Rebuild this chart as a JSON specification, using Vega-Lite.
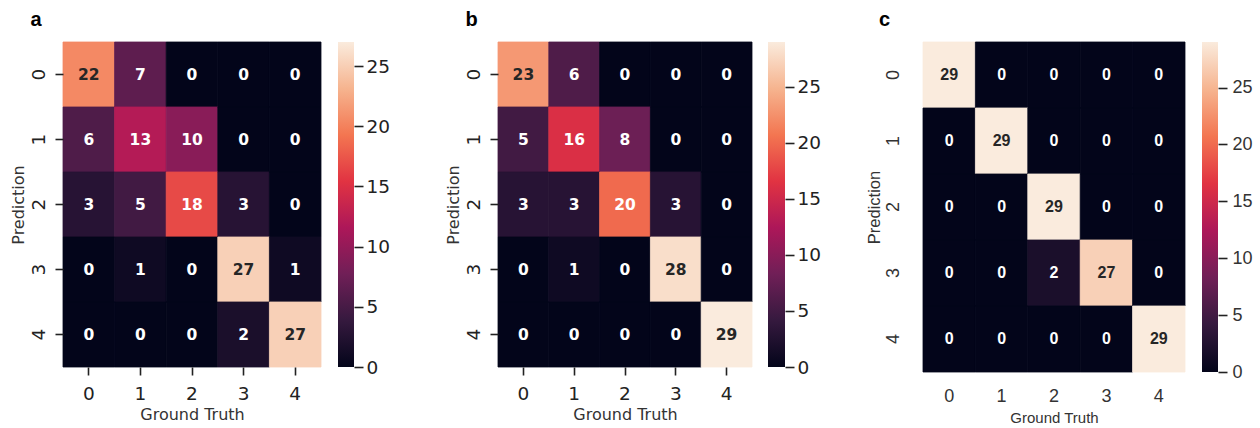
{
  "$schema": "https://vega.github.io/schema/vega-lite/v6.json",
  "background": "white",
  "padding": {"left": 10, "top": 9, "right": 0, "bottom": 0},
  "config": {"view": {"stroke": null}, "axis": {"grid": false, "domain": false}},
  "datasets": {
    "a": [
      {"pred": 0, "truth": 0, "n": 22}, {"pred": 0, "truth": 1, "n": 7}, {"pred": 0, "truth": 2, "n": 0}, {"pred": 0, "truth": 3, "n": 0}, {"pred": 0, "truth": 4, "n": 0},
      {"pred": 1, "truth": 0, "n": 6}, {"pred": 1, "truth": 1, "n": 13}, {"pred": 1, "truth": 2, "n": 10}, {"pred": 1, "truth": 3, "n": 0}, {"pred": 1, "truth": 4, "n": 0},
      {"pred": 2, "truth": 0, "n": 3}, {"pred": 2, "truth": 1, "n": 5}, {"pred": 2, "truth": 2, "n": 18}, {"pred": 2, "truth": 3, "n": 3}, {"pred": 2, "truth": 4, "n": 0},
      {"pred": 3, "truth": 0, "n": 0}, {"pred": 3, "truth": 1, "n": 1}, {"pred": 3, "truth": 2, "n": 0}, {"pred": 3, "truth": 3, "n": 27}, {"pred": 3, "truth": 4, "n": 1},
      {"pred": 4, "truth": 0, "n": 0}, {"pred": 4, "truth": 1, "n": 0}, {"pred": 4, "truth": 2, "n": 0}, {"pred": 4, "truth": 3, "n": 2}, {"pred": 4, "truth": 4, "n": 27}
    ],
    "b": [
      {"pred": 0, "truth": 0, "n": 23}, {"pred": 0, "truth": 1, "n": 6}, {"pred": 0, "truth": 2, "n": 0}, {"pred": 0, "truth": 3, "n": 0}, {"pred": 0, "truth": 4, "n": 0},
      {"pred": 1, "truth": 0, "n": 5}, {"pred": 1, "truth": 1, "n": 16}, {"pred": 1, "truth": 2, "n": 8}, {"pred": 1, "truth": 3, "n": 0}, {"pred": 1, "truth": 4, "n": 0},
      {"pred": 2, "truth": 0, "n": 3}, {"pred": 2, "truth": 1, "n": 3}, {"pred": 2, "truth": 2, "n": 20}, {"pred": 2, "truth": 3, "n": 3}, {"pred": 2, "truth": 4, "n": 0},
      {"pred": 3, "truth": 0, "n": 0}, {"pred": 3, "truth": 1, "n": 1}, {"pred": 3, "truth": 2, "n": 0}, {"pred": 3, "truth": 3, "n": 28}, {"pred": 3, "truth": 4, "n": 0},
      {"pred": 4, "truth": 0, "n": 0}, {"pred": 4, "truth": 1, "n": 0}, {"pred": 4, "truth": 2, "n": 0}, {"pred": 4, "truth": 3, "n": 0}, {"pred": 4, "truth": 4, "n": 29}
    ],
    "c": [
      {"pred": 0, "truth": 0, "n": 29}, {"pred": 0, "truth": 1, "n": 0}, {"pred": 0, "truth": 2, "n": 0}, {"pred": 0, "truth": 3, "n": 0}, {"pred": 0, "truth": 4, "n": 0},
      {"pred": 1, "truth": 0, "n": 0}, {"pred": 1, "truth": 1, "n": 29}, {"pred": 1, "truth": 2, "n": 0}, {"pred": 1, "truth": 3, "n": 0}, {"pred": 1, "truth": 4, "n": 0},
      {"pred": 2, "truth": 0, "n": 0}, {"pred": 2, "truth": 1, "n": 0}, {"pred": 2, "truth": 2, "n": 29}, {"pred": 2, "truth": 3, "n": 0}, {"pred": 2, "truth": 4, "n": 0},
      {"pred": 3, "truth": 0, "n": 0}, {"pred": 3, "truth": 1, "n": 0}, {"pred": 3, "truth": 2, "n": 2}, {"pred": 3, "truth": 3, "n": 27}, {"pred": 3, "truth": 4, "n": 0},
      {"pred": 4, "truth": 0, "n": 0}, {"pred": 4, "truth": 1, "n": 0}, {"pred": 4, "truth": 2, "n": 0}, {"pred": 4, "truth": 3, "n": 0}, {"pred": 4, "truth": 4, "n": 29}
    ],
    "barA": [{"lo": 0, "hi": 27}],
    "barB": [{"lo": 0, "hi": 29}],
    "barC": [{"lo": 0, "hi": 29}]
  },
  "spacing": 45,
  "hconcat": [
    {
      "spacing": 55,
      "hconcat": [
        {
          "title": {"text": "a", "anchor": "start", "frame": "bounds", "dx": 20, "offset": 12, "font": "Liberation Sans", "fontSize": 20, "fontWeight": "bold", "color": "#000000"},
          "spacing": 16,
          "hconcat": [
            {
              "width": 258, "height": 325,
              "data": {"name": "a"},
              "encoding": {
                "x": {"field": "truth", "type": "ordinal", "axis": {"title": "Ground Truth", "labelAngle": 0, "labelFont": "DejaVu Sans", "labelFontSize": 18.5, "labelColor": "#222222", "tickSize": 8, "tickWidth": 1.6, "tickColor": "#222222", "labelPadding": 9, "titleFont": "DejaVu Sans", "titleFontSize": 16, "titleFontWeight": "normal", "titleColor": "#333333", "titlePadding": 4}},
                "y": {"field": "pred", "type": "ordinal", "axis": {"title": "Prediction", "labelAngle": -90, "labelAlign": "center", "labelBaseline": "bottom", "labelFont": "DejaVu Sans", "labelFontSize": 18.5, "labelColor": "#222222", "tickSize": 8, "tickWidth": 1.6, "tickColor": "#222222", "labelPadding": 6.5, "titleFont": "DejaVu Sans", "titleFontSize": 16, "titleFontWeight": "normal", "titleColor": "#333333", "titlePadding": 3}}
              },
              "layer": [
                {"mark": {"type": "rect", "strokeWidth": 0.8}, "encoding": {
                  "color": {"field": "n", "type": "quantitative", "legend": null, "scale": {"domain": [0, 27], "interpolate": "rgb", "range": ["#03051a", "#35193e", "#701f57", "#ad1759", "#e13342", "#f37651", "#f6b48f", "#faebdd"]}},
                  "stroke": {"field": "n", "type": "quantitative", "legend": null, "scale": {"domain": [0, 27], "interpolate": "rgb", "range": ["#03051a", "#35193e", "#701f57", "#ad1759", "#e13342", "#f37651", "#f6b48f", "#faebdd"]}}}},
                {"mark": {"type": "text", "font": "DejaVu Sans", "fontWeight": "bold", "fontSize": 15.5}, "encoding": {"text": {"field": "n", "type": "quantitative"}, "color": {"condition": {"test": "datum.n >= 21", "value": "#262626"}, "value": "#ffffff"}}}
              ]
            },
            {
              "width": 16, "height": 325,
              "data": {"name": "barA"},
              "mark": {"type": "rect", "color": {"gradient": "linear", "x1": 0, "y1": 1, "x2": 0, "y2": 0, "stops": [{"offset": 0, "color": "#03051a"}, {"offset": 0.142857, "color": "#35193e"}, {"offset": 0.285714, "color": "#701f57"}, {"offset": 0.428571, "color": "#ad1759"}, {"offset": 0.571429, "color": "#e13342"}, {"offset": 0.714286, "color": "#f37651"}, {"offset": 0.857143, "color": "#f6b48f"}, {"offset": 1, "color": "#faebdd"}]}},
              "encoding": {
                "y": {"field": "lo", "type": "quantitative", "scale": {"domain": [0, 27], "nice": false}, "axis": {"orient": "right", "title": null, "values": [0, 5, 10, 15, 20, 25], "labelFont": "DejaVu Sans", "labelFontSize": 18.5, "labelColor": "#222222", "tickSize": 9, "tickWidth": 1.6, "tickColor": "#222222", "labelPadding": 3}},
                "y2": {"field": "hi"}
              }
            }
          ]
        },
        {
          "title": {"text": "b", "anchor": "start", "frame": "bounds", "dx": 20, "offset": 12, "font": "Liberation Sans", "fontSize": 20, "fontWeight": "bold", "color": "#000000"},
          "spacing": 15,
          "hconcat": [
            {
              "width": 254, "height": 325,
              "data": {"name": "b"},
              "encoding": {
                "x": {"field": "truth", "type": "ordinal", "axis": {"title": "Ground Truth", "labelAngle": 0, "labelFont": "DejaVu Sans", "labelFontSize": 18.5, "labelColor": "#222222", "tickSize": 8, "tickWidth": 1.6, "tickColor": "#222222", "labelPadding": 9, "titleFont": "DejaVu Sans", "titleFontSize": 16, "titleFontWeight": "normal", "titleColor": "#333333", "titlePadding": 4}},
                "y": {"field": "pred", "type": "ordinal", "axis": {"title": "Prediction", "labelAngle": -90, "labelAlign": "center", "labelBaseline": "bottom", "labelFont": "DejaVu Sans", "labelFontSize": 18.5, "labelColor": "#222222", "tickSize": 8, "tickWidth": 1.6, "tickColor": "#222222", "labelPadding": 6.5, "titleFont": "DejaVu Sans", "titleFontSize": 16, "titleFontWeight": "normal", "titleColor": "#333333", "titlePadding": 3}}
              },
              "layer": [
                {"mark": {"type": "rect", "strokeWidth": 0.8}, "encoding": {
                  "color": {"field": "n", "type": "quantitative", "legend": null, "scale": {"domain": [0, 29], "interpolate": "rgb", "range": ["#03051a", "#35193e", "#701f57", "#ad1759", "#e13342", "#f37651", "#f6b48f", "#faebdd"]}},
                  "stroke": {"field": "n", "type": "quantitative", "legend": null, "scale": {"domain": [0, 29], "interpolate": "rgb", "range": ["#03051a", "#35193e", "#701f57", "#ad1759", "#e13342", "#f37651", "#f6b48f", "#faebdd"]}}}},
                {"mark": {"type": "text", "font": "DejaVu Sans", "fontWeight": "bold", "fontSize": 15.5}, "encoding": {"text": {"field": "n", "type": "quantitative"}, "color": {"condition": {"test": "datum.n >= 21", "value": "#262626"}, "value": "#ffffff"}}}
              ]
            },
            {
              "width": 17, "height": 325,
              "data": {"name": "barB"},
              "mark": {"type": "rect", "color": {"gradient": "linear", "x1": 0, "y1": 1, "x2": 0, "y2": 0, "stops": [{"offset": 0, "color": "#03051a"}, {"offset": 0.142857, "color": "#35193e"}, {"offset": 0.285714, "color": "#701f57"}, {"offset": 0.428571, "color": "#ad1759"}, {"offset": 0.571429, "color": "#e13342"}, {"offset": 0.714286, "color": "#f37651"}, {"offset": 0.857143, "color": "#f6b48f"}, {"offset": 1, "color": "#faebdd"}]}},
              "encoding": {
                "y": {"field": "lo", "type": "quantitative", "scale": {"domain": [0, 29], "nice": false}, "axis": {"orient": "right", "title": null, "values": [0, 5, 10, 15, 20, 25], "labelFont": "DejaVu Sans", "labelFontSize": 18.5, "labelColor": "#222222", "tickSize": 9, "tickWidth": 1.6, "tickColor": "#222222", "labelPadding": 3}},
                "y2": {"field": "hi"}
              }
            }
          ]
        }
      ]
    },
    {
      "title": {"text": "c", "anchor": "start", "frame": "bounds", "dx": 13, "offset": 12, "font": "Liberation Sans", "fontSize": 20, "fontWeight": "bold", "color": "#000000"},
      "spacing": 16,
      "hconcat": [
        {
          "width": 262, "height": 330,
          "data": {"name": "c"},
          "encoding": {
            "x": {"field": "truth", "type": "ordinal", "axis": {"title": "Ground Truth", "labelAngle": 0, "labelFont": "Liberation Sans", "labelFontSize": 18, "labelColor": "#333333", "ticks": false, "labelPadding": 15, "titleFont": "Liberation Sans", "titleFontSize": 15, "titleFontWeight": "normal", "titleColor": "#333333", "titlePadding": 5}},
            "y": {"field": "pred", "type": "ordinal", "axis": {"title": "Prediction", "labelAngle": -90, "labelAlign": "center", "labelBaseline": "bottom", "labelFont": "Liberation Sans", "labelFontSize": 18, "labelColor": "#333333", "ticks": false, "labelPadding": 21, "titleFont": "Liberation Sans", "titleFontSize": 16.5, "titleFontWeight": "normal", "titleColor": "#333333", "titlePadding": 2}}
          },
          "layer": [
            {"mark": {"type": "rect", "strokeWidth": 0.8}, "encoding": {
              "color": {"field": "n", "type": "quantitative", "legend": null, "scale": {"domain": [0, 29], "interpolate": "rgb", "range": ["#03051a", "#35193e", "#701f57", "#ad1759", "#e13342", "#f37651", "#f6b48f", "#faebdd"]}},
              "stroke": {"field": "n", "type": "quantitative", "legend": null, "scale": {"domain": [0, 29], "interpolate": "rgb", "range": ["#03051a", "#35193e", "#701f57", "#ad1759", "#e13342", "#f37651", "#f6b48f", "#faebdd"]}}}},
            {"mark": {"type": "text", "font": "Liberation Sans", "fontWeight": "bold", "fontSize": 16}, "encoding": {"text": {"field": "n", "type": "quantitative"}, "color": {"condition": {"test": "datum.n >= 21", "value": "#262626"}, "value": "#ffffff"}}}
          ]
        },
        {
          "width": 16, "height": 330,
          "data": {"name": "barC"},
          "mark": {"type": "rect", "color": {"gradient": "linear", "x1": 0, "y1": 1, "x2": 0, "y2": 0, "stops": [{"offset": 0, "color": "#03051a"}, {"offset": 0.142857, "color": "#35193e"}, {"offset": 0.285714, "color": "#701f57"}, {"offset": 0.428571, "color": "#ad1759"}, {"offset": 0.571429, "color": "#e13342"}, {"offset": 0.714286, "color": "#f37651"}, {"offset": 0.857143, "color": "#f6b48f"}, {"offset": 1, "color": "#faebdd"}]}},
          "encoding": {
            "y": {"field": "lo", "type": "quantitative", "scale": {"domain": [0, 29], "nice": false}, "axis": {"orient": "right", "title": null, "values": [0, 5, 10, 15, 20, 25], "labelFont": "Liberation Sans", "labelFontSize": 18, "labelColor": "#333333", "tickSize": 9, "tickWidth": 1.6, "tickColor": "#222222", "labelPadding": 5}},
            "y2": {"field": "hi"}
          }
        }
      ]
    }
  ]
}
